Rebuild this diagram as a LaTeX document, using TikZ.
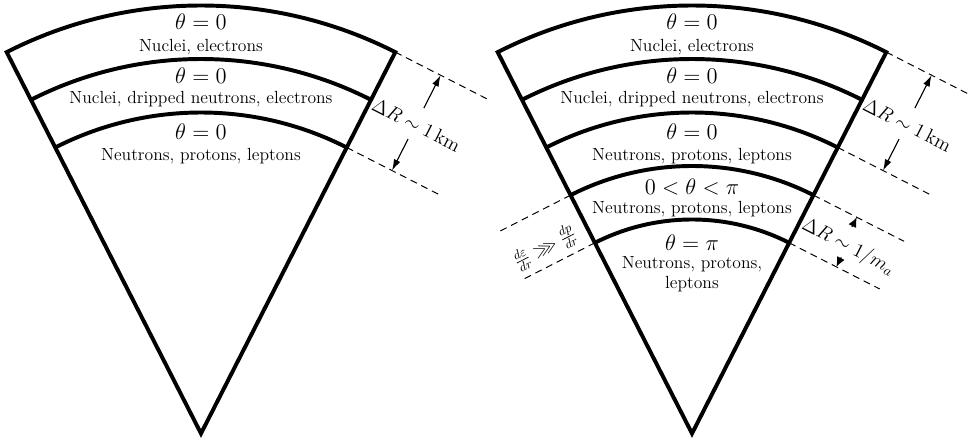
\RequirePackage{fix-cm}
\documentclass[tikz,border=0pt]{standalone}
\usepackage{amssymb}
\usetikzlibrary{arrows.meta}

\begin{document}
\begin{tikzpicture}[
    x=1.3375cm, y=1.3375cm,
    % Layer boundaries and wedge outline
    shell/.style={line width=2.8pt, line join=miter},
    % Tangent guide lines at the wedge edges
    guide/.style={line width=0.7pt, dash pattern=on 5pt off 3.5pt},
    % Dimension arrows
    dimarrow/.style={line width=0.8pt, -{Latex[length=8pt,width=5pt]}},
    shortarrow/.style={line width=0.8pt, -{Latex[length=7pt,width=6pt]}},
    % Texts
    phase/.style={font=\fontsize{16}{18}\selectfont},
    content/.style={font=\fontsize{12.5}{15}\selectfont, align=center},
    dimlabel/.style={font=\fontsize{14}{16}\selectfont}
]
    \useasboundingbox (-3.757,-0.215) rectangle (14.393,8.103);

    % ---------- Left wedge: crust and outer core ----------
    \begin{scope}
        \coordinate (LA) at (0,0);
        \draw[shell] (LA) -- (117:8) arc[start angle=117, end angle=63, radius=8] -- cycle;
        \foreach \r in {7,6}
            \draw[shell] (117:\r) arc[start angle=117, end angle=63, radius=\r];

        % Layer contents
        \node[phase]   (Lt1) at (0,7.69) {$\theta = 0$};
        \node[content] (Lc1) at (0,7.23) {Nuclei, electrons};
        \node[phase]   (Lt2) at (0,6.68) {$\theta = 0$};
        \node[content] (Lc2) at (0,6.25) {Nuclei, dripped neutrons, electrons};
        \node[phase]   (Lt3) at (0,5.64) {$\theta = 0$};
        \node[content] (Lc3) at (0,5.18) {Neutrons, protons, leptons};

        % Thickness of the crust
        \begin{scope}[rotate=-27]
            \coordinate (LE8) at (0,8);
            \coordinate (LE6) at (0,6);
            \coordinate (LG8) at (1.95,8);
            \coordinate (LG6) at (1.95,6);
            \draw[guide] (LE8) -- (LG8);
            \draw[guide] (LE6) -- (LG6);
            \coordinate (LU0) at (0.95,7.31);
            \coordinate (LU1) at (0.95,8);
            \coordinate (LD0) at (0.95,6.66);
            \coordinate (LD1) at (0.95,6);
            \draw[dimarrow] (LU0) -- (LU1);
            \draw[dimarrow] (LD0) -- (LD1);
            \node[dimlabel, rotate=-27] (Ldr) at (0.97,6.97) {$\Delta R \sim 1\,\mathrm{km}$};
        \end{scope}
    \end{scope}

    % ---------- Right wedge: with the axion condensate ----------
    \begin{scope}[shift={(9.178,0)}]
        \coordinate (RA) at (0,0);
        \draw[shell] (RA) -- (117:8) arc[start angle=117, end angle=63, radius=8] -- cycle;
        \foreach \r in {7,6,5,4}
            \draw[shell] (117:\r) arc[start angle=117, end angle=63, radius=\r];

        % Layer contents
        \node[phase]   (Rt1) at (0,7.69) {$\theta = 0$};
        \node[content] (Rc1) at (0,7.23) {Nuclei, electrons};
        \node[phase]   (Rt2) at (0,6.68) {$\theta = 0$};
        \node[content] (Rc2) at (0,6.25) {Nuclei, dripped neutrons, electrons};
        \node[phase]   (Rt3) at (0,5.64) {$\theta = 0$};
        \node[content] (Rc3) at (0,5.18) {Neutrons, protons, leptons};
        \node[phase]   (Rt4) at (0,4.60) {$0 < \theta < \pi$};
        \node[content] (Rc4) at (0,4.20) {Neutrons, protons, leptons};
        \node[phase]   (Rt5) at (0,3.57) {$\theta = \pi$};
        \node[content] (Rc5) at (0,2.98) {Neutrons, protons,\\[-1pt] leptons};

        % Thickness of the crust
        \begin{scope}[rotate=-27]
            \coordinate (RE8) at (0,8);
            \coordinate (RE6) at (0,6);
            \coordinate (RG8) at (1.95,8);
            \coordinate (RG6) at (1.95,6);
            \draw[guide] (RE8) -- (RG8);
            \draw[guide] (RE6) -- (RG6);
            \coordinate (RU0) at (0.95,7.31);
            \coordinate (RU1) at (0.95,8);
            \coordinate (RD0) at (0.95,6.66);
            \coordinate (RD1) at (0.95,6);
            \draw[dimarrow] (RU0) -- (RU1);
            \draw[dimarrow] (RD0) -- (RD1);
            \node[dimlabel, rotate=-27] (Rdr) at (0.97,6.97) {$\Delta R \sim 1\,\mathrm{km}$};

            % Width of the transition layer
            \coordinate (RE5) at (0,5);
            \coordinate (RE4) at (0,4);
            \coordinate (RG5) at (1.9,5);
            \coordinate (RG4) at (1.9,4);
            \draw[guide] (RE5) -- (RG5);
            \draw[guide] (RE4) -- (RG4);
            \coordinate (RV0) at (0.91,4.8);
            \coordinate (RV1) at (0.91,5);
            \coordinate (RW0) at (0.99,4.2);
            \coordinate (RW1) at (0.99,4);
            \draw[shortarrow] (RV0) -- (RV1);
            \draw[shortarrow] (RW0) -- (RW1);
            \node[dimlabel, rotate=-27] (Rma) at (1.02,4.43) {$\Delta R \sim 1/m_a$};
        \end{scope}

        % Gradient condition on the other side
        \begin{scope}[rotate=27]
            \coordinate (RF5) at (0,5);
            \coordinate (RF4) at (0,4);
            \coordinate (RH5) at (-1.5,5);
            \coordinate (RH4) at (-1.5,4);
            \draw[guide] (RF5) -- (RH5);
            \draw[guide] (RF4) -- (RH4);
            \node[rotate=27, font=\fontsize{13}{15}\selectfont] (Rgr) at (-0.87,4.34)
                {$\frac{d\varepsilon}{dr} \ggg \frac{dp}{dr}$};
        \end{scope}
    \end{scope}
\end{tikzpicture}
\end{document}
